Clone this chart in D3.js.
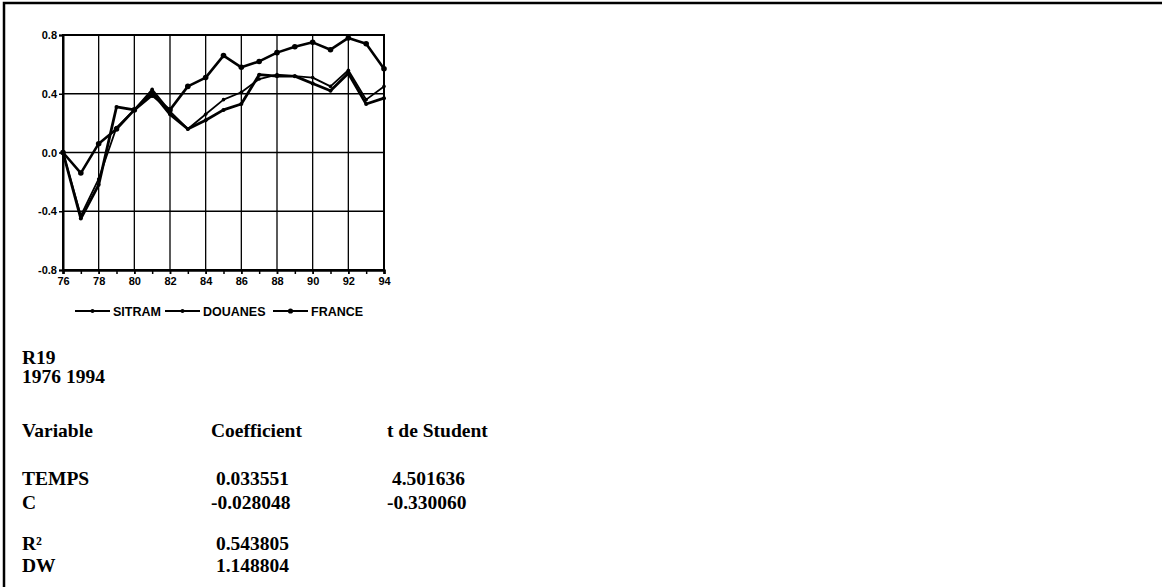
<!DOCTYPE html>
<html><head><meta charset="utf-8">
<script src="https://cdn.jsdelivr.net/npm/d3@7"></script>
<style>html,body{margin:0;padding:0;background:#fff;}svg{display:block;}</style>
</head><body>
<svg id="c" width="1164" height="587"></svg>
<script>
const years = [1976,1977,1978,1979,1980,1981,1982,1983,1984,1985,1986,1987,1988,1989,1990,1991,1992,1993,1994];
const sitram  = [0, -0.45, -0.22, 0.31, 0.29, 0.41, 0.26, 0.16, 0.22, 0.29, 0.33, 0.53, 0.52, 0.52, 0.47, 0.42, 0.54, 0.33, 0.37];
const douanes = [0, -0.43, -0.18, 0.17, 0.29, 0.43, 0.28, 0.16, 0.26, 0.36, 0.41, 0.50, 0.53, 0.52, 0.51, 0.45, 0.56, 0.36, 0.45];
const france  = [0, -0.14, 0.06, 0.16, 0.29, 0.39, 0.29, 0.45, 0.51, 0.66, 0.58, 0.62, 0.68, 0.72, 0.75, 0.70, 0.78, 0.74, 0.57];
const seriesNames = ["SITRAM","DOUANES","FRANCE"];
const yTicks = [-0.8,-0.4,0,0.4,0.8];
const yTickLabels = ["-0.8","-0.4","0.0","0.4","0.8"];
const xLabelYears = [1976,1978,1980,1982,1984,1986,1988,1990,1992,1994];
const xTickLabels = ["76","78","80","82","84","86","88","90","92","94"];
const tableRows = [
  ["R19"],
  ["1976 1994"],
  ["Variable","Coefficient","t de Student"],
  ["TEMPS"," 0.033551"," 4.501636"],
  ["C","-0.028048","-0.330060"],
  ["R²"," 0.543805"],
  ["DW"," 1.148804"]
];

const svg = d3.select("#c");
// page frame
svg.append("path").attr("d","M4,587V3H1162").attr("fill","none").attr("stroke","#000").attr("stroke-width",2.5);

const x = d3.scaleLinear().domain([1976,1994]).range([63,384]);
const y = d3.scaleLinear().domain([-0.8,0.8]).range([270,35]);

const g = svg.append("g");
// grid
g.selectAll(".vg").data(xLabelYears.filter(d=>d>1976&&d<1994)).enter().append("line")
  .attr("x1",d=>x(d)).attr("x2",d=>x(d)).attr("y1",y(0.8)).attr("y2",y(-0.8))
  .attr("stroke","#000").attr("stroke-width",1.3);
g.selectAll(".hg").data(yTicks.filter(d=>Math.abs(d)<0.8)).enter().append("line")
  .attr("x1",x(1976)).attr("x2",x(1994)).attr("y1",d=>y(d)).attr("y2",d=>y(d))
  .attr("stroke","#000").attr("stroke-width",1.3);
g.append("rect").attr("x",x(1976)).attr("y",y(0.8)).attr("width",x(1994)-x(1976)).attr("height",y(-0.8)-y(0.8))
  .attr("fill","none").attr("stroke","#000").attr("stroke-width",2);

// axes
const yAxis = d3.axisLeft(y).tickValues(yTicks).tickSize(4).tickPadding(2)
  .tickFormat((d,i)=>yTickLabels[i]);
const ya = g.append("g").attr("transform",`translate(${x(1976)},0)`).call(yAxis);
const xAxisMinor = d3.axisBottom(x).tickValues(years).tickSize(4).tickFormat("");
g.append("g").attr("transform",`translate(0,${y(-0.8)})`).call(xAxisMinor);
const xAxis = d3.axisBottom(x).tickValues(xLabelYears).tickSize(4).tickPadding(3)
  .tickFormat((d,i)=>xTickLabels[i]);
const xa = g.append("g").attr("transform",`translate(0,${y(-0.8)})`).call(xAxis);
g.selectAll(".domain").attr("stroke","#000").attr("stroke-width",2);
g.selectAll(".tick line").attr("stroke","#000").attr("stroke-width",1.5);
g.selectAll(".tick text").attr("font-family","Liberation Sans, Arial, sans-serif")
  .attr("font-weight","bold").attr("font-size",11).attr("fill","#000");

// series
const data = [sitram, douanes, france];
const widths = [2.8, 1.8, 2.6];
const radii = [2, 1.8, 2.8];
const line = d3.line().x((d,i)=>x(years[i])).y(d=>y(d));
data.forEach((s,k)=>{
  g.append("path").datum(s).attr("d",line).attr("fill","none").attr("stroke","#000")
    .attr("stroke-width",widths[k]).attr("stroke-linejoin","round");
  g.selectAll(".m"+k).data(s).enter().append("circle")
    .attr("cx",(d,i)=>x(years[i])).attr("cy",d=>y(d)).attr("r",radii[k]).attr("fill","#000");
});

// legend
const legX = [75, 165, 273];
const legY = 311;
seriesNames.forEach((n,k)=>{
  const lg = svg.append("g").attr("transform",`translate(${legX[k]},${legY})`);
  lg.append("line").attr("x1",0).attr("x2",35).attr("y1",0).attr("y2",0).attr("stroke","#000").attr("stroke-width",1.8);
  lg.append("circle").attr("cx",17.5).attr("cy",0).attr("r",k===2?2.6:2).attr("fill","#000");
  lg.append("text").attr("x",38).attr("y",4.6).text(n)
    .attr("font-family","Liberation Sans, Arial, sans-serif").attr("font-weight","bold").attr("font-size",12.5);
});

// text table
const colX = [22, 211, 387];
const rowY = [364, 383, 437, 485, 509, 550, 572];
tableRows.forEach((r,i)=>{
  r.forEach((t,j)=>{
    svg.append("text").attr("x",colX[j]).attr("y",rowY[i]).text(t)
      .attr("xml:space","preserve").style("white-space","pre")
      .attr("font-family","Liberation Serif, Times New Roman, serif").attr("font-weight","bold")
      .attr("font-size",19.5).attr("fill","#000");
  });
});
</script>
</body></html>
